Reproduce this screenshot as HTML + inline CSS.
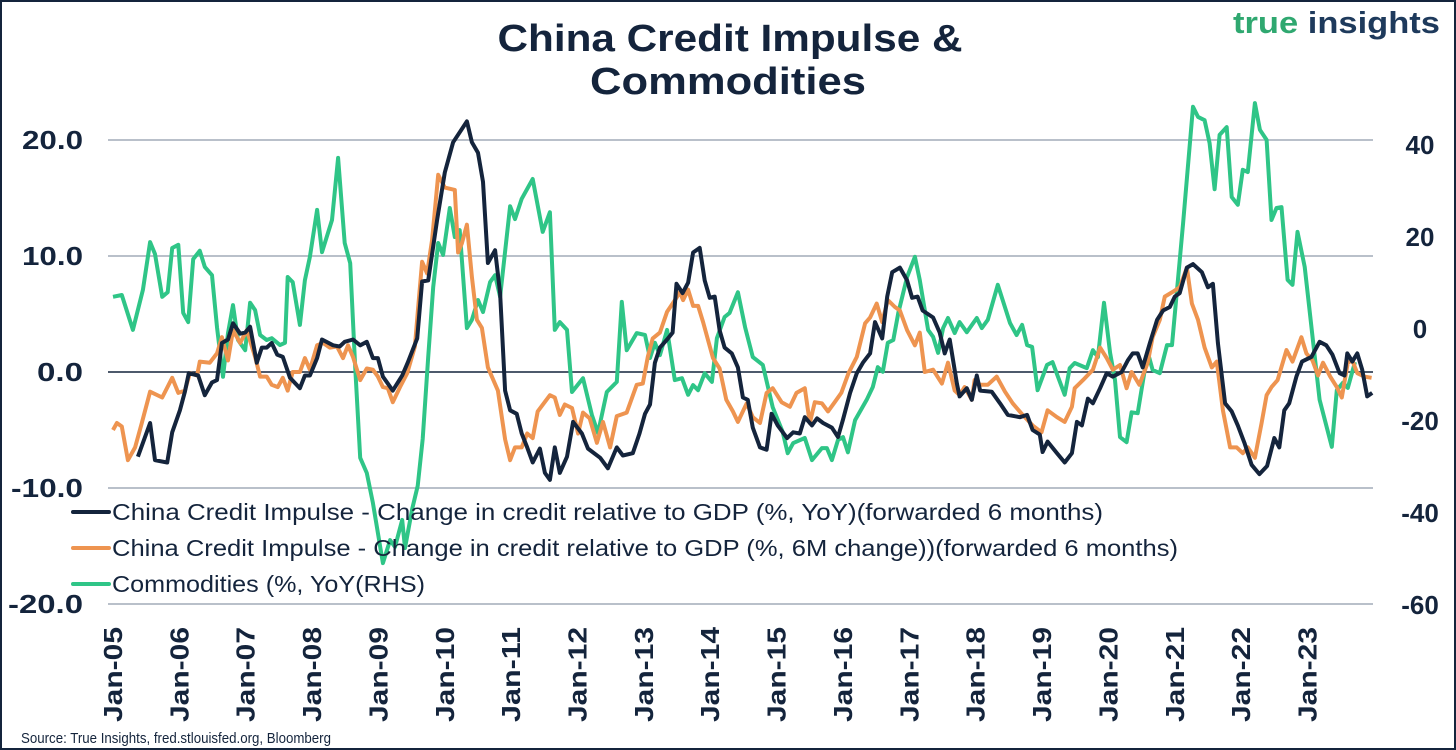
<!DOCTYPE html>
<html><head><meta charset="utf-8">
<style>
html,body{margin:0;padding:0;background:#fff;}
body{width:1456px;height:750px;overflow:hidden;position:relative;font-family:"Liberation Sans",sans-serif;}
#frame{position:absolute;left:0;top:0;width:1452px;height:746px;border:2px solid #14243c;}
svg{position:absolute;left:0;top:0;}
</style></head>
<body>
<div id="frame"></div>
<svg id="chart" width="1456" height="750"></svg>
<script>
// ---- data ----
const yearLabels = ["Jan-05","Jan-06","Jan-07","Jan-08","Jan-09","Jan-10","Jan-11","Jan-12","Jan-13","Jan-14","Jan-15","Jan-16","Jan-17","Jan-18","Jan-19","Jan-20","Jan-21","Jan-22","Jan-23"];
const leftTicks = [20,10,0,-10,-20];
const leftTickLabels = ["20.0","10.0","0.0","-10.0","-20.0"];
const rightTicks = [40,20,0,-20,-40,-60];
const rightTickLabels = ["40","20","0","-20","-40","-60"];
const legendLabels = ["China Credit Impulse - Change in credit relative to GDP (%, YoY)(forwarded 6 months)","China Credit Impulse - Change in credit relative to GDP (%, 6M change))(forwarded 6 months)","Commodities (%, YoY(RHS)"];

// months since Jan-05
const yoyMonths = [4.5,6.7,7.6,9.8,10.7,12.1,13,13.7,15.4,16.6,17.9,18.8,19.7,20.8,21.7,23,23.9,24.8,26,26.9,27.8,28.7,29.7,30.7,32,33.8,34.7,35.6,36.9,37.8,39.8,41,41.9,43.4,44.7,45.9,47,47.9,48.8,50.6,52.3,53.3,55,55.9,57,58.6,60,61.5,64,64.9,66,66.9,67.8,69.1,70,70.9,71.8,73,73.9,74.9,75.9,77.2,78.1,79,79.9,80.8,82.1,83.2,84.8,85.9,88.1,89.5,91.1,92.2,94,95.2,96.2,97.1,98,98.9,100.2,101.2,101.9,103,104,104.9,106.1,107,107.9,108.8,109.7,110.6,111.9,113,113.9,114.8,115.7,117,118.2,119.1,120.2,121.9,123,124.2,125.1,126.4,127.3,128.4,130,131.1,132,133.3,134.5,135.6,136.9,137.8,139.1,140,140.9,142.3,143.6,144.5,145.5,146.4,148.3,149.5,150.4,151.3,152.6,153.1,154.4,155.3,156.2,156.8,158.9,160.4,161.8,164,165.3,166.3,167.6,168.1,169,170.7,172.1,173.4,174.3,175.2,176.3,177.2,178.5,179.7,180.8,182.4,183.5,184.4,185.3,186.2,187.5,188.8,189.9,191.1,192,192.9,194.2,195.3,196.9,198,198.9,199.8,201.1,202.3,203.4,204.6,205.9,207.3,208.7,210,210.9,211.8,212.7,214,215,216.7,218.2,219.4,220.5,221.8,222.7,223.2,224.1,225,225.9,226.8,227.7];
const yoyValues = [-7.3,-4.4,-7.6,-7.8,-5.2,-3.3,-1.7,-0.1,-0.3,-2,-0.9,-0.7,2.5,2.8,4.2,3.3,3.4,3.9,0.8,2.1,2.1,2.5,1.5,1.3,-0.5,-1.4,-0.3,-0.3,1.2,2.8,2.3,2.2,2.6,2.8,2.3,2.6,1.2,1.2,-0.4,-1.6,-0.3,0.8,2.9,7.8,7.9,13.1,17.2,19.8,21.6,19.8,18.9,16.4,9.4,10.5,6.8,-1.6,-3.3,-3.6,-5.3,-6.5,-7.8,-6.6,-8.7,-9.3,-6.5,-8.7,-7.3,-4.3,-5.3,-6.6,-7.4,-8.3,-6.5,-7.2,-7,-5.3,-3.6,-2.8,0.8,2.1,2.8,3.4,7.6,6.8,7.7,10.3,10.7,7.9,6.4,6.5,3.6,2.1,1.6,0.4,-2.2,-2.4,-4.8,-6.5,-6.7,-3.6,-4.6,-5.7,-5.2,-5.3,-3.9,-4.6,-4,-4.4,-4.8,-5.6,-4.1,-1.8,-0.1,0.8,1.6,4.3,2.9,6.5,8.6,9,7.9,6.4,6.5,5.3,4.7,3.4,1.6,2.8,-1,-2.1,-1.4,-2.4,-0.3,-1.6,-1.7,-2.7,-3.7,-3.9,-3.7,-5,-5.4,-6.9,-6,-7,-7.8,-7,-4.3,-4.6,-2.3,-2.7,-1.4,-0.1,-0.4,0,1,1.6,1.6,0.4,2.5,4.5,5.3,5.6,6.5,6.8,9,9.3,8.6,7.3,7.6,2.5,-2.7,-3.4,-4.6,-6.1,-8,-8.8,-8.1,-5.7,-6.5,-3.3,-2.7,-0.4,0.9,1.3,2.6,2.3,1.5,-0.1,-0.3,1.6,0.9,1.6,0.2,-2.1,-1.8];

const sixMMonths = [0,0.7,1.6,2.7,4,5.2,6.7,8.9,10.7,11.8,13,13.9,15.2,15.7,17.5,18.8,19.7,20.8,21.7,23,24.2,25.7,26.6,27.8,28.7,29.8,30.7,31.6,32.5,33.8,34.7,35.6,36.9,38,39.2,40.5,41.6,42.5,43.4,44.7,45.9,47,47.9,48.8,49.7,50.6,51.9,53.2,54.6,55.1,55.9,56.8,57.7,58.8,60,61.8,62.4,63.1,64,64.9,65.8,66.7,67.8,69.6,70.9,71.8,72.7,73.9,74.9,75.9,76.8,79,79.9,80.8,81.7,83,84.1,85,86.2,87.5,88.6,89.9,91.1,92.9,94.7,95.8,96.7,97.6,98.9,100.2,101.9,102.5,103.1,104,104.9,105.8,106.7,108.5,109.7,110.9,112.1,113,114.6,115.7,117,118.2,119.3,120.9,122.4,123.6,125.1,126,126.9,128.2,129.3,130.5,131.7,133,134.5,136,136.9,138.1,139.1,140.1,141.4,142.3,143.6,145,145.9,146.8,148.3,149.9,151,152.2,153.1,154,155.3,155.8,156.8,158.2,159.8,161.3,162.7,164.5,166.3,167.9,169,170.7,172.1,173.4,173.9,175.4,177.2,178.5,179.7,180.8,182.1,183.3,184.2,185.6,187.1,188,189.3,190.2,191.6,192.9,194.2,195.1,196.2,197.4,198.7,199.6,200.7,202,203.2,204.3,205.2,206.5,207.7,208.6,209.5,210.6,212.2,213.3,214.9,215.8,216.9,217.9,218.8,220.1,221.3,222.2,223.3,224.1,225,226.3,227.6];
const sixMValues = [-5,-4.4,-4.7,-7.6,-6.5,-4.4,-1.7,-2.2,-0.5,-1.8,-1.6,-0.1,-0.3,0.9,0.8,1.6,3,1,3.6,2.5,3.6,1.3,-0.4,-0.4,-1.1,-1.3,-0.5,-1.6,0,0,1.2,0.2,2.3,2.5,2.1,2.2,1.2,2.3,1.3,-0.7,0.3,0.2,-0.4,-1.3,-1.4,-2.6,-1.3,-0.1,2.2,5.1,9.5,8.5,11.4,17,15.9,15.7,10.3,11.1,12.7,8.2,4.5,3.8,0.4,-1.6,-5.8,-7.6,-6.5,-6.5,-5.3,-5.7,-3.4,-2,-2.2,-3.7,-2.8,-3.1,-5.3,-3.5,-4,-6.1,-4.3,-6.5,-3.8,-3.5,-1.1,-1,1.3,2.9,3.4,5.2,6.4,6.9,6.2,7.1,5.7,5.7,4.3,1.2,0.3,-2.4,-3.4,-4.3,-2.7,-3.9,-4.4,-1.8,-1.4,-2.6,-3,-1.8,-1.4,-4.4,-2.6,-2.7,-3.4,-2.6,-1.8,-0.1,1.3,4.2,4.7,5.9,4.3,6.2,5.6,5.3,3.6,2.3,3.4,0,0.2,-1,0.8,-1.6,-2,-1.3,-2.4,-0.7,-1.1,-1.1,-0.4,-1.7,-2.7,-3.7,-4.6,-5.2,-3.3,-3.9,-4.3,-3,-1.4,-0.7,0.2,2.1,1.2,0.2,0.6,-1.4,0,-1.1,0.8,3,4.5,6.5,6.9,7.3,9,5.9,4.5,2.1,0.4,0.9,-3.3,-6.5,-6.5,-7,-6.5,-7.4,-4.4,-2,-1.3,-0.7,1.9,0.9,3,1.6,1,-0.3,0.8,-0.4,-1.3,-2.2,0.8,1,-0.1,-0.4,-0.5];

const comMonths = [0,1.6,3.6,5.4,6.7,7.6,8.9,9.9,10.7,11.8,12.7,13.6,14.5,15.7,16.6,17.9,18.8,19.9,20.8,21.7,22.6,23.9,24.8,25.7,26.6,27.8,28.7,30.2,31.1,31.6,32.5,33.8,34.7,35.6,36.9,37.8,39.6,40.7,41.9,42.9,43.8,44.7,45.9,47,48.8,50.1,51,52.3,52.8,54.1,55.1,56,57,57.9,58.8,59.7,60.9,61.8,62.7,64,64.9,66,66.9,68.2,69.1,70,71.8,72.7,73.9,75.9,77.7,79,79.9,80.8,82.1,83,85,86.6,87.7,89.3,91.1,92,92.9,94.7,96.2,97.1,98,98.9,100.2,101.6,102.9,104,104.9,105.8,107,108.3,109.2,110.6,111.5,113,114.3,115.7,117.5,119.3,121.1,122,123,125.1,126.4,128.2,129.1,130,131.1,132,132.9,134.2,136.3,137.4,138.3,139.2,140.1,141.1,142,143.6,145,145.9,147.4,148.3,149.2,150.1,151,152.2,153.1,154.4,156.2,157.1,158.2,160,162.2,163.4,164.4,165.3,166.2,167.2,168.9,169.9,172.1,173,173.9,176.1,177.2,178.1,179.2,180.3,181.2,182.1,183.3,184.2,185.3,187.1,188,189.3,190.6,191.5,193.5,195.3,196.2,197.4,198.3,199.2,200.1,201.4,202.3,203.4,204.3,205.2,206.5,207.4,208.6,209.5,210.4,211.3,212.4,213.3,214.2,215.5,218.2,220.4,221.3,222.4,223.3,224.6];
const comValues = [7,7.4,-0.2,8.5,18.9,16.3,7,8,17.6,18.3,3.5,1.5,15.2,17,13.5,11.7,0.4,-10.4,-0.9,5.2,-2.4,-4.6,5.7,4.1,-1.3,-2.4,-2,-3.5,-3,11.3,10.2,0.9,10.6,15.7,25.9,16.7,23.7,37.2,18.7,14.3,-8.3,-28,-31.3,-37.8,-50.9,-45.9,-47.4,-41.5,-47.6,-39.1,-34.1,-23.9,-6.1,9.1,18.7,16.1,26.3,20,21.5,0.2,2,6.3,3.7,10.2,11.7,7,26.7,23.9,28.3,32.6,21.1,25.4,-0.2,1.5,-0.2,-13.7,-10.7,-18.7,-22.6,-13.7,-11.5,5.9,-4.6,-0.9,-1.3,-6.3,-3,-5.7,-0.2,-11.1,-10.7,-14.3,-12.2,-13.3,-9.6,-11.5,-2,2.6,3.5,8,0.4,-6.1,-7.8,-17,-22.4,-27,-24.8,-23.7,-28.5,-25.9,-25.9,-28.5,-24.1,-23.5,-26.8,-19.8,-15.4,-12.6,-8.3,-9.3,-3,-2.4,3.5,11.3,15.7,10.6,-0.2,-1.7,-5.2,0.2,2.4,-0.9,1.5,-0.7,2.4,0.2,2,9.6,1.3,-1.3,0.9,-3.5,-3.9,-13.3,-7.8,-7.2,-14.3,-8.5,-7.4,-8.5,-4.6,-6.1,5.7,-5.2,-11.1,-23.5,-24.6,-18.1,-18.3,-5,-8.9,-9.6,-3.5,-3.5,23,48.3,46.1,45.4,40.4,30.4,42.2,43.9,28.7,27,34.6,34.1,49.1,43.3,41.1,23.7,26.3,26.5,10.7,9.6,21.1,13.5,-15.4,-25.6,-13.3,-11.7,-12.8,-7.2];

// ---- axes ----
const X0 = 113, PX_PER_MONTH = 5.53;
const plotLeft = 108, plotRight = 1373;
const xScale = m => X0 + m * PX_PER_MONTH;
const yLeft = v => 372 - v * 11.6;
const yRight = v => 329 - v * 4.6;

const NS = "http://www.w3.org/2000/svg";
const svg = document.getElementById("chart");
function mk(tag, attrs, parent) {
  const e = document.createElementNS(NS, tag);
  for (const k in attrs) e.setAttribute(k, attrs[k]);
  (parent || svg).appendChild(e);
  return e;
}
const navy = "#14243c";
const font = '"Liberation Sans", sans-serif';
const SG = "spacingAndGlyphs";

// title
const t1 = mk("text", {x: 730, y: 51, "text-anchor": "middle", "font-family": font, "font-size": 38, "font-weight": "bold", fill: navy, textLength: 465, lengthAdjust: SG});
t1.textContent = "China Credit Impulse &";


const t2 = mk("text", {x: 728, y: 94, "text-anchor": "middle", "font-family": font, "font-size": 38, "font-weight": "bold", fill: navy, textLength: 276, lengthAdjust: SG});
t2.textContent = "Commodities";



// logo
const logo = mk("text", {x: 1440, y: 33, "text-anchor": "end", "font-family": font, "font-size": 31, "font-weight": "bold", textLength: 207, lengthAdjust: SG});


const ls1 = mk("tspan", {fill: "#2fa870"}, logo); ls1.textContent = "true ";
const ls2 = mk("tspan", {fill: "#1e3a5c"}, logo); ls2.textContent = "insights";

// grid + left ticks
const leftLens = [61, 61, 46, 72, 75];
leftTicks.forEach((v, i) => {
  const g = mk("line", {x1: plotLeft, x2: plotRight, y1: yLeft(v), y2: yLeft(v), stroke: v === 0 ? navy : "#b9c0ca", "stroke-width": v === 0 ? 1.5 : 2});
  
  
  const t = mk("text", {x: 83, y: yLeft(v) + 9, "text-anchor": "end", "font-family": font, "font-size": 26, "font-weight": "bold", fill: navy, textLength: leftLens[i], lengthAdjust: SG});
  t.textContent = leftTickLabels[i];
  
  
});
rightTicks.forEach((v, i) => {
  const t = mk("text", {x: 1420, y: yRight(v) + 9, "text-anchor": "middle", "font-family": font, "font-size": 26, "font-weight": "bold", fill: navy});
  t.textContent = rightTickLabels[i];
  
  
});
yearLabels.forEach((lab, i) => {
  const x = xScale(i * 12) + 9;
  const t = mk("text", {x: 0, y: 0, transform: `translate(${x},722) rotate(-90)`, "font-family": font, "font-size": 26, "font-weight": "bold", fill: navy, textLength: 95, lengthAdjust: SG});
  t.textContent = lab;
  
  
});

// series
function series(months, vals, yf, color, name) {
  const d = months.map((m, i) => (i ? "L" : "M") + xScale(m).toFixed(1) + "," + yf(vals[i]).toFixed(1)).join(" ");
  const p = mk("path", {d: d, fill: "none", stroke: color, "stroke-width": 4, "stroke-linejoin": "round"});
  
  
}
series(comMonths, comValues, yRight, "#2fc587", "commodities-line");
series(sixMMonths, sixMValues, yLeft, "#ee9450", "credit-impulse-6m-line");
series(yoyMonths, yoyValues, yLeft, navy, "credit-impulse-yoy-line");

// legend
const legColors = [navy, "#ee9450", "#2fc587"];
const legLens = [991, 1066, 313];
legendLabels.forEach((lab, i) => {
  const y = 512 + i * 36;
  const sw = mk("line", {x1: 73, x2: 109, y1: y, y2: y, stroke: legColors[i], "stroke-width": 4, "stroke-linecap": "round"});
  
  
  const t = mk("text", {x: 112, y: y + 8, "font-family": font, "font-size": 23, fill: navy, textLength: legLens[i], lengthAdjust: SG});
  t.textContent = lab;
  
  
});

// source
const src = mk("text", {x: 21, y: 743, "font-family": font, "font-size": 15, fill: navy, textLength: 310, lengthAdjust: SG});
src.textContent = "Source: True Insights, fred.stlouisfed.org, Bloomberg";


</script>
</body></html>
